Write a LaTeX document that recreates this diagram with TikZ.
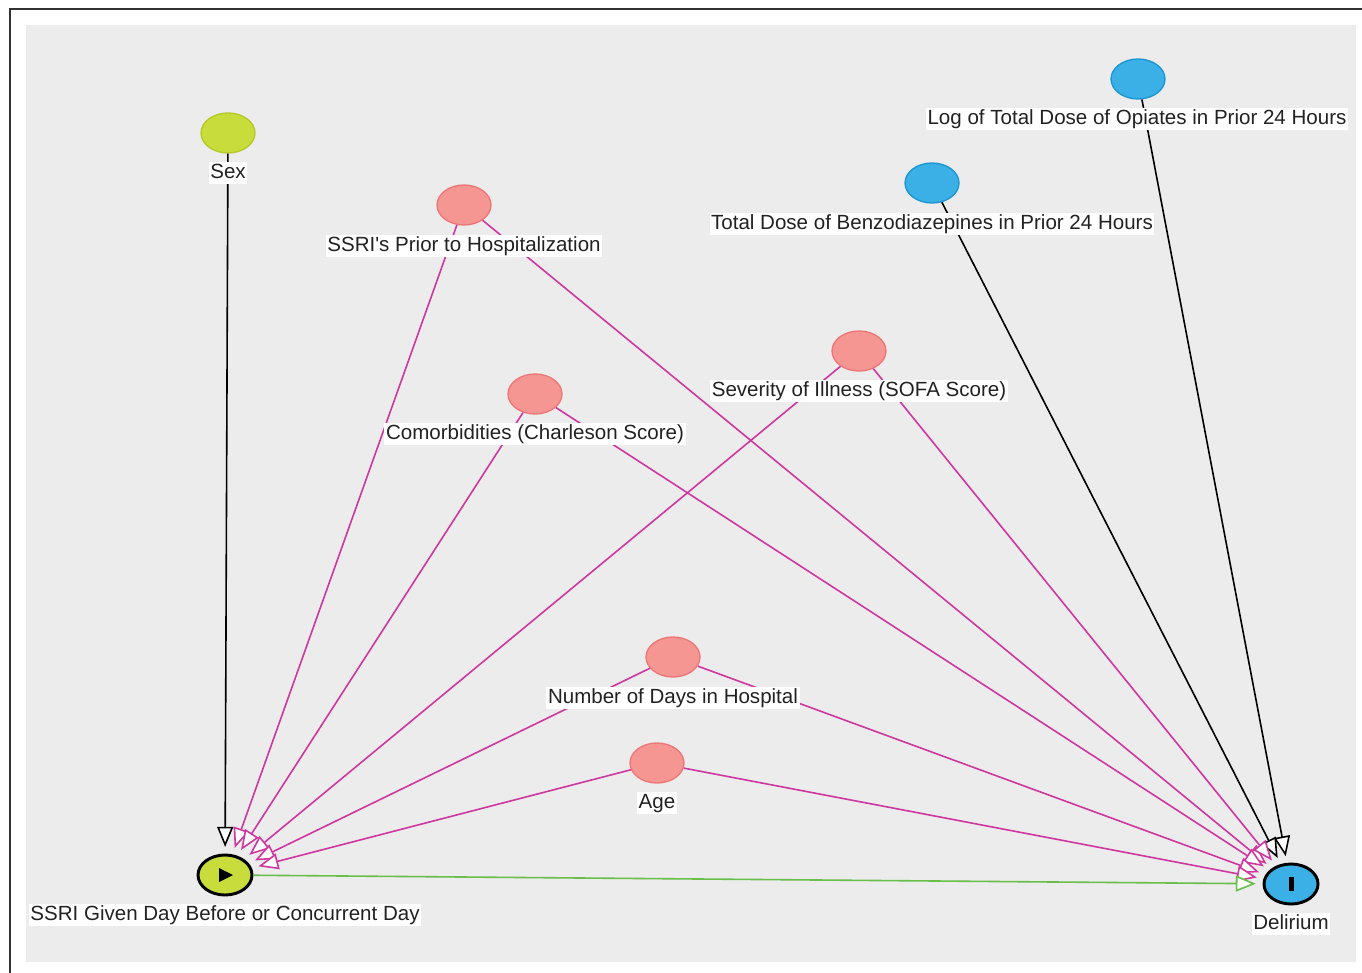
\documentclass[tikz,border=0pt]{standalone}
\usepackage{fontspec}
\setmainfont{Liberation Sans}
\usetikzlibrary{shapes.geometric,arrows.meta}

\begin{document}
\begin{tikzpicture}[x=0.75pt,y=0.75pt,yscale=-1,
	var/.style={ellipse,minimum width=40.5pt,minimum height=30pt,inner sep=0pt,line width=1pt},
	pinkvar/.style={var,draw={rgb, 255:red, 238; green, 118; blue, 118 },fill={rgb, 255:red, 246; green, 150; blue, 146 }},
	bluevar/.style={var,draw={rgb, 255:red, 28; green, 150; blue, 210 },fill={rgb, 255:red, 58; green, 176; blue, 230 }},
	greenvar/.style={var,draw={rgb, 255:red, 180; green, 200; blue, 40 },fill={rgb, 255:red, 200; green, 220; blue, 60 }},
	keyvar/.style={var,draw=black,line width=2.2pt},
	lbl/.style={fill=white,inner xsep=1.2pt,inner ysep=1pt,text height=11.6pt,text depth=3.4pt,
		text={rgb, 255:red, 34; green, 34; blue, 34 },font=\fontsize{15.4}{18}\selectfont},
	edge/.style={line width=1.2pt,shorten >=5pt,-{Triangle[length=15pt,width=12pt,fill=white,line width=1.2pt]}},
	blackedge/.style={edge,draw=black},
	pinkedge/.style={edge,draw={rgb, 255:red, 206; green, 56; blue, 158 }},
	greenedge/.style={edge,draw={rgb, 255:red, 104; green, 190; blue, 72 }}
	]
	\useasboundingbox (0,0) rectangle (1362,973);
	
	%Background panel
	\fill [color={rgb, 255:red, 236; green, 236; blue, 236 }] (26,25) rectangle (1356,962);
	%Frame
	\draw [color={rgb, 255:red, 50; green, 50; blue, 50 },line width=1.5pt] (10,973) -- (10,9) -- (1362,9);
	
	% Variables
	\node [greenvar] (sex) at (228,133) {};
	\node [pinkvar] (prior) at (464,205) {};
	\node [pinkvar] (comorb) at (535,394) {};
	\node [pinkvar] (sofa) at (859,351) {};
	\node [pinkvar] (days) at (673,657) {};
	\node [pinkvar] (age) at (657,763) {};
	\node [bluevar] (benzo) at (932,183) {};
	\node [bluevar] (opiates) at (1138,79) {};
	\node [keyvar,fill={rgb, 255:red, 200; green, 220; blue, 60 }] (ssri) at (225,875) {};
	\node [keyvar,fill={rgb, 255:red, 58; green, 176; blue, 230 }] (delirium) at (1291,884) {};
	
	% Edges
	\draw [blackedge] (sex) -- (ssri);
	\draw [blackedge] (opiates) -- (delirium);
	\draw [blackedge] (benzo) -- (delirium);
	\foreach \v in {prior,comorb,sofa,days,age} {
		\draw [pinkedge] (\v) -- (ssri);
		\draw [pinkedge] (\v) -- (delirium);
	}
	\draw [greenedge] (ssri) -- (delirium);
	
	% Exposure and outcome marks
	\fill ([shift={(-6,-7)}]ssri.center) -- ++(14,7) -- ++(-14,7) -- cycle;
	\fill ([shift={(-2.5,-7)}]delirium.center) rectangle ++(5,14);
	
	% Text Nodes
	\node [lbl] (sexlbl) at (228,173) {Sex};
	\node [lbl] (priorlbl) at (464,246) {SSRI\textquotesingle s Prior to Hospitalization};
	\node [lbl] (comorblbl) at (535,434) {Comorbidities (Charleson Score)};
	\node [lbl] (sofalbl) at (859,391) {Severity of Illness (SOFA Score)};
	\node [lbl] (dayslbl) at (673,698) {Number of Days in Hospital};
	\node [lbl] (agelbl) at (657,803) {Age};
	\node [lbl] (benzolbl) at (932,224) {Total Dose of Benzodiazepines in Prior 24 Hours};
	\node [lbl] (opiateslbl) at (1137,119) {Log of Total Dose of Opiates in Prior 24 Hours};
	\node [lbl] (ssrilbl) at (225,915) {SSRI Given Day Before or Concurrent Day};
	\node [lbl] (deliriumlbl) at (1291,924) {Delirium};
\end{tikzpicture}
\end{document}
